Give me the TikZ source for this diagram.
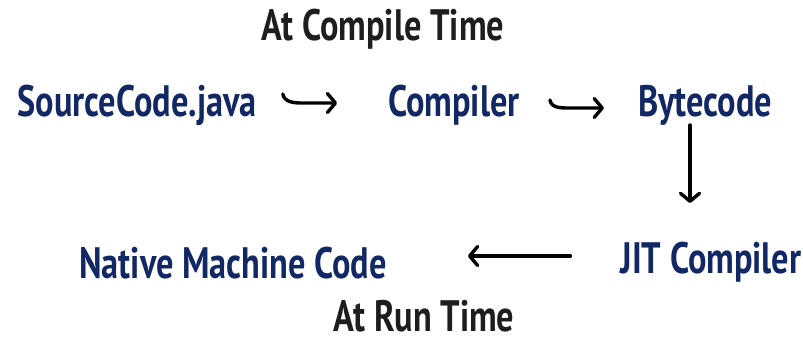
\documentclass[tikz,border=0pt]{standalone}
\usepackage{fontspec}
\newfontfamily\labfont{PT Sans}[FakeStretch=0.78]
\usetikzlibrary{arrows.meta,calc}
\definecolor{navy}{RGB}{18,40,100}
\definecolor{ink}{RGB}{30,30,30}
\tikzset{
  lab/.style={inner sep=0pt, anchor=base, font=\labfont\bfseries\fontsize{44}{44}\selectfont},
  blue/.style={lab, text=navy},
  dark/.style={lab, text=ink},
  arr/.style={line width=3.4pt, line cap=round, line join=round, draw=black,
    -{Straight Barb[length=8pt,width=19pt,line cap=round,line join=round]}}
}
\begin{document}
\begin{tikzpicture}[x=1pt,y=1pt]
\useasboundingbox (0,0) rectangle (803,343);
\node[dark] (ct) at (383,302) {At Compile Time};
\node[blue] (src) at (137,226) {SourceCode.java};
\node[blue] (comp) at (454,226) {Compiler};
\node[blue] (byte) at (705,226) {Bytecode};
\node[blue] (jit) at (711,70) {JIT Compiler};
\node[blue] (nat) at (233,65) {Native Machine Code};
\node[dark] (rt) at (424,12) {At Run Time};
\draw[arr] ($(src.base east)+(26,23)$) to[out=-80,in=180] ++(19,-9) -- ($(comp.base west)+(-51,14)$);
\draw[arr] ($(comp.base east)+(30,17)$) to[out=-80,in=180] ++(20,-8) -- ($(byte.base west)+(-34,9)$);
\draw[arr] ($(byte.base)+(-15,-8)$) -- ($(jit.base)+(-21,70)$);
\draw[arr] ($(jit.base west)+(-50,17)$) -- ($(nat.base east)+(81,22)$);
\end{tikzpicture}
\end{document}
